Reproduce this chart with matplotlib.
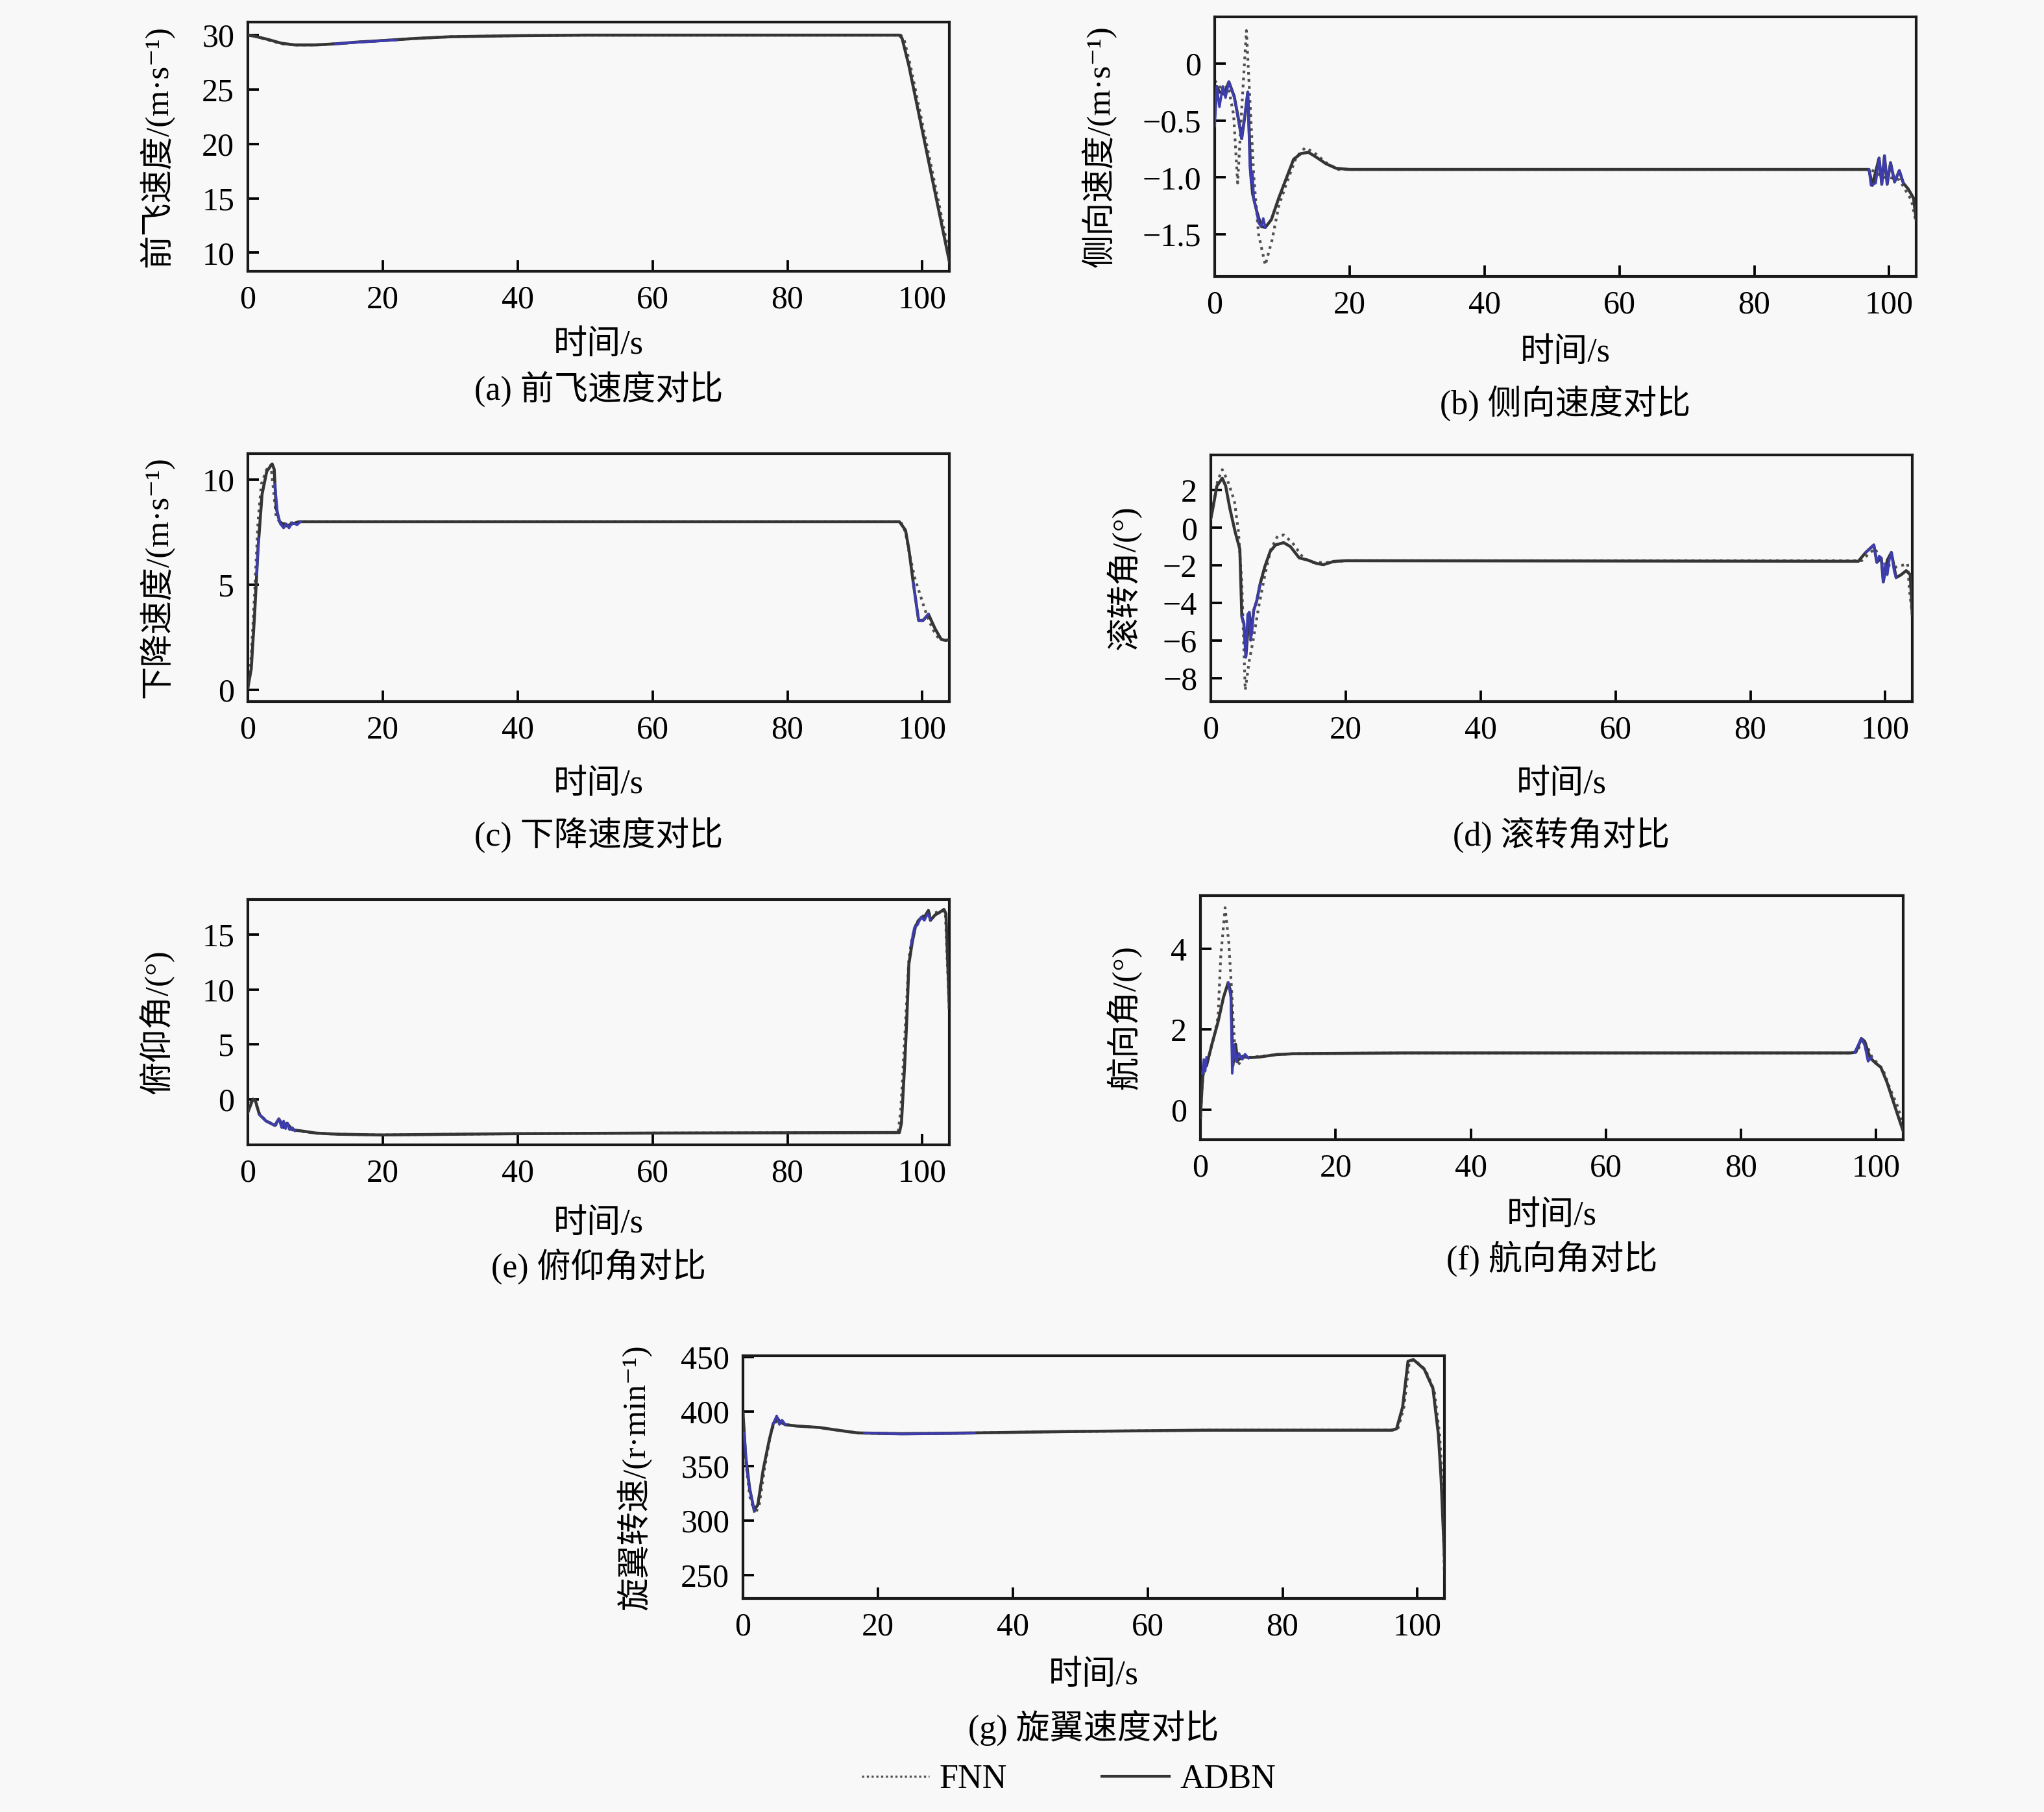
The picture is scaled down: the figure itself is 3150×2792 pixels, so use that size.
import numpy as np
import matplotlib
matplotlib.use('Agg')
import matplotlib.pyplot as plt
from matplotlib.lines import Line2D

plt.rcParams['font.family'] = ['Liberation Serif', 'Noto Sans CJK SC', 'DejaVu Serif']
plt.rcParams['axes.unicode_minus'] = True

nan = float('nan')

# (a) 前飞速度 ______________________________________________________________
a_t_adbn = [0, 1, 3, 5, 7, 10, 13, 16, 20, 25, 30, 40, 50, 60, 96.6, 97.0, 98.0, 100, 102, 104]
a_adbn = [30.0, 29.9, 29.6, 29.25, 29.1, 29.1, 29.2, 29.35, 29.5, 29.7, 29.85, 29.95, 30.0, 30.0,
          30.0, 29.7, 27.2, 21.2, 15.2, 9.2]
a_t_fnn = [0, 1, 3, 5, 7, 10, 13, 16, 20, 25, 30, 40, 50, 60, 96.8, 97.3, 98.3, 100.3, 102.3, 104]
a_fnn = [30.0, 29.9, 29.55, 29.2, 29.1, 29.1, 29.2, 29.35, 29.5, 29.7, 29.85, 29.95, 30.0, 30.0,
         30.0, 29.6, 27.0, 21.0, 15.0, 9.8]
a_t_blue = [13, 16, 20, 22]
a_blue = [29.2, 29.33, 29.48, 29.55]

# (b) 侧向速度 ______________________________________________________________
b_t_adbn = [0, 0.3, 0.7, 1.4, 2.1, 2.9, 3.5, 4.0, 4.5, 4.9, 5.3, 5.6, 6.2, 6.9, 7.5, 8.4, 9.5, 10.6,
            11.7, 12.8, 13.9, 15.0, 16.5, 18.0, 20, 97.0, 97.5, 98.5, 98.9, 99.3, 99.7, 100.2, 100.8,
            101.5, 102.1, 102.8, 103.6, 104]
b_adbn = [-0.45, -0.2, -0.25, -0.27, -0.16, -0.29, -0.48, -0.66, -0.45, -0.25, -0.91, -1.14, -1.29,
          -1.43, -1.44, -1.37, -1.18, -1.01, -0.84, -0.79, -0.78, -0.82, -0.88, -0.92, -0.93, -0.93,
          -1.07, -0.83, -1.06, -0.81, -1.06, -0.87, -1.04, -0.94, -1.05, -1.10, -1.18, -1.37]
b_t_fnn = [0, 1, 2, 2.8, 3.4, 4.0, 4.7, 5.2, 5.8, 6.5, 7.5, 8.5, 9.5, 10.6, 12.1, 13.4, 14.7, 16.5,
           18.3, 20, 97, 98, 99, 100, 101.5, 102.5, 103.3, 104]
b_fnn = [-0.15, -0.22, -0.2, -0.45, -1.05, -0.4, 0.29, -0.3, -1.0, -1.5, -1.77, -1.55, -1.25, -1.06,
         -0.82, -0.74, -0.78, -0.87, -0.93, -0.93, -0.93, -0.95, -1.0, -1.0, -1.02, -1.12, -1.2, -1.4]
b_t_blue = [0, 0.3, 0.7, 1.2, 1.6, 2.1, 2.9, 4.0, 4.9, 5.2, 5.4, 5.6, 5.8, 6.2, 6.5, 6.9, 7.2, 7.5, nan,
            97.0, 97.3, 98.0, 98.5, 98.9, 99.3, 99.7, 100.2, 100.8, 101.5, 102.1]
b_blue = [-0.55, -0.2, -0.38, -0.2, -0.3, -0.16, -0.3, -0.66, -0.25, -0.9, -1.05, -0.95, -1.2, -1.29,
          -1.4, -1.43, -1.36, -1.44, nan,
          -0.93, -1.07, -1.05, -0.83, -1.06, -0.81, -1.06, -0.87, -1.04, -0.94, -1.05]

# (c) 下降速度 ______________________________________________________________
c_t_adbn = [0, 0.5, 1.0, 1.5, 2.1, 2.8, 3.6, 3.9, 4.2, 4.7, 5.7, 6.6, 7.6, 96.6, 97.5, 98.0, 98.65,
            99.45, 100.1, 100.9, 101.9, 102.8, 103.5, 104]
c_adbn = [0.1, 1.0, 3.6, 6.7, 9.3, 10.4, 10.75, 10.5, 8.65, 8.0, 7.8, 7.9, 8.0, 8.0, 7.6, 6.7, 5.1,
          3.3, 3.3, 3.6, 2.9, 2.4, 2.35, 2.4]
c_t_fnn = [0, 0.5, 1.0, 1.5, 2.0, 2.8, 3.4, 3.8, 4.2, 5.0, 8.0, 96.8, 97.5, 98.0, 98.9, 99.7, 100.5,
           101.5, 102.5, 103.5, 104]
c_fnn = [0.1, 1.6, 4.6, 8.0, 9.8, 10.5, 10.7, 9.5, 8.2, 7.9, 8.0, 8.0, 7.5, 6.6, 5.3, 4.5, 3.7, 2.9,
         2.4, 2.35, 2.4]
c_t_blue = [1.3, 1.6, nan, 4.0, 4.4, 4.8, 5.3, 5.7, 6.1, 6.6, 7.3, 7.8, nan, 98.65, 99.45, 100.1, 100.9]
c_blue = [5.5, 7.2, nan, 9.8, 8.4, 7.9, 7.7, 7.9, 7.7, 7.95, 7.85, 8.0, nan, 5.1, 3.3, 3.3, 3.6]

# (d) 滚转角 ________________________________________________________________
d_t_adbn = [0, 0.26, 0.9, 1.7, 2.2, 2.8, 3.6, 4.3, 4.6, 4.9, 5.2, 5.7, 6.0, 6.35, 6.8, 7.3, 8.0, 8.8,
            9.6, 10.8, 11.8, 13.1, 14.4, 15.7, 16.7, 18.2, 20, 96.0, 97.1, 98.3, 98.75, 99.4, 99.7,
            100.3, 100.9, 101.6, 102.3, 103.1, 103.7, 104]
d_adbn = [0.5, 0.95, 2.23, 2.64, 2.23, 1.07, -0.21, -1.14, -4.74, -5.09, -6.84, -4.5, -5.7, -4.4,
          -3.9, -3.0, -2.07, -1.26, -0.91, -0.79, -1.0, -1.6, -1.72, -1.9, -1.96, -1.79, -1.75,
          -1.78, -1.31, -0.91, -1.84, -1.61, -2.88, -1.72, -1.31, -2.65, -2.51, -2.28, -2.5, -4.63]
d_t_fnn = [0, 0.5, 1.0, 1.7, 2.5, 3.5, 4.1, 4.6, 5.1, 5.7, 6.2, 7.1, 8.0, 8.9, 9.9, 10.8, 12.1, 13.7,
           15.0, 17.0, 20, 96.5, 97.5, 98.5, 99.5, 100.5, 101.5, 102.5, 103.3, 103.6, 104]
d_fnn = [0.5, 1.5, 2.5, 3.1, 2.5, 1.43, -0.21, -3.0, -8.64, -7.07, -6.14, -4.2, -2.54, -1.14, -0.44,
         -0.38, -0.79, -1.6, -1.84, -1.85, -1.75, -1.75, -1.4, -1.1, -1.9, -2.0, -2.1, -2.0, -1.9,
         -3.4, -4.6]
d_t_blue = [4.6, 4.9, 5.2, 5.45, 5.7, 5.9, 6.1, 6.35, 6.8, 7.3, nan, 97.1, 98.3, 98.75, 99.1, 99.4,
            99.7, 100.0, 100.3, 100.6, 100.9, 101.3, 101.6]
d_blue = [-4.7, -5.1, -6.9, -4.6, -4.5, -6.0, -5.5, -4.4, -3.9, -3.0, nan, -1.31, -0.91, -1.84, -1.5,
          -1.61, -2.88, -1.9, -2.5, -1.7, -1.31, -2.3, -2.65]

# (e) 俯仰角 ________________________________________________________________
e_t_adbn = [0, 0.75, 1.1, 1.7, 2.7, 4.0, 4.6, 5.3, 5.8, 6.6, 7.9, 10.1, 13.3, 19.7, 40, 60, 96.6,
            96.9, 97.4, 97.7, 98.0, 98.5, 99.0, 99.6, 100.4, 100.9, 101.2, 101.9, 102.5, 103.2,
            103.5, 103.6, 104]
e_adbn = [-1.2, 0.0, -0.1, -1.4, -2.0, -2.4, -1.8, -2.6, -2.2, -2.8, -2.9, -3.1, -3.2, -3.27, -3.15,
          -3.1, -3.05, -2.2, 3.4, 7.35, 12.3, 14.3, 15.8, 16.4, 16.7, 17.2, 16.3, 16.8, 17.0, 17.3,
          16.9, 15.3, 8.35]
e_t_fnn = [0, 0.7, 1.1, 1.7, 2.7, 4.0, 5.0, 6.6, 8.0, 10, 13.3, 19.7, 40, 60, 96.4, 96.8, 97.2, 97.6,
           98.0, 98.5, 99.0, 99.6, 100.4, 101.2, 102.0, 102.8, 103.4, 103.7, 104]
e_fnn = [-1.0, 0.1, -0.3, -1.3, -2.0, -2.3, -2.5, -2.8, -2.95, -3.1, -3.2, -3.27, -3.15, -3.1, -3.05,
         -1.0, 3.5, 8.0, 12.8, 14.8, 15.9, 16.5, 16.8, 16.9, 17.0, 17.2, 17.1, 12.5, 8.0]
e_t_blue = [1.7, 2.7, 4.0, 4.6, 5.0, 5.3, 5.6, 5.9, 6.2, 6.6, 7.0, nan, 98.3, 98.8, 99.3, 99.8, 100.3,
            100.8, 101.2]
e_blue = [-1.4, -2.0, -2.4, -1.8, -2.6, -2.0, -2.7, -2.2, -2.8, -2.6, -2.9, nan, 14.0, 15.6, 15.9,
          16.6, 16.3, 16.9, 16.4]

# (f) 航向角 ________________________________________________________________
f_t_adbn = [0, 0.25, 0.5, 0.9, 1.7, 2.6, 3.4, 4.1, 4.5, 4.8, 5.2, 5.5, 6.3, 7.1, 8.8, 11.3, 13.8, 30,
            96.2, 97.0, 97.8, 98.3, 99.1, 99.9, 100.7, 101.6, 102.4, 103.2, 104]
f_adbn = [-0.2, 0.6, 1.16, 1.09, 1.63, 2.18, 2.79, 3.16, 2.93, 1.09, 1.63, 1.22, 1.33, 1.29, 1.31,
          1.37, 1.39, 1.41, 1.41, 1.43, 1.77, 1.70, 1.29, 1.16, 1.05, 0.68, 0.27, -0.14, -0.54]
f_t_fnn = [0, 0.3, 0.6, 1.2, 2.0, 2.6, 3.0, 3.65, 4.2, 4.6, 5.05, 5.5, 6.3, 8.0, 11.3, 13.8, 30,
           96.4, 97.2, 98.0, 98.6, 99.4, 100.2, 101.0, 102.0, 103.2, 104]
f_fnn = [-0.2, 0.7, 1.1, 1.3, 1.8, 2.3, 3.8, 5.03, 4.15, 3.0, 1.63, 1.09, 1.29, 1.31, 1.37, 1.39,
         1.41, 1.41, 1.45, 1.75, 1.6, 1.3, 1.15, 1.0, 0.54, 0.07, -0.41]
f_t_blue = [0.3, 0.5, 0.7, 0.9, nan, 4.1, 4.5, 4.7, 5.0, 5.3, 5.7, 6.2, 6.6, 7.1, nan,
            96.8, 97.8, 98.3, 98.8, 99.3]
f_blue = [0.9, 1.25, 0.95, 1.3, nan, 3.16, 2.8, 0.9, 1.6, 1.2, 1.4, 1.25, 1.38, 1.28, nan,
          1.42, 1.77, 1.6, 1.2, 1.3]

# (g) 旋翼转速 ______________________________________________________________
g_t_adbn = [0, 0.4, 1.0, 1.65, 2.2, 3.0, 3.9, 4.5, 5.1, 5.5, 6.3, 8.0, 11.3, 13.8, 17, 23.6, 34.3,
            48.4, 68.9, 96.1, 96.9, 97.8, 98.6, 99.4, 101.0, 102.3, 103.1, 103.5, 104.2]
g_adbn = [399, 359, 329, 309.5, 314.4, 346.8, 374, 389, 394, 390.3, 387.8, 386.6, 385.3, 383, 380.3,
          379.6, 380.3, 381.6, 382.8, 382.8, 384, 404, 446, 447.5, 438.8, 421, 379, 339, 237]
g_t_fnn = [0, 0.4, 1.0, 1.8, 2.4, 3.2, 4.0, 4.6, 5.3, 6.3, 8.0, 11.3, 13.8, 17, 23.6, 34.3, 48.4,
           68.9, 96.3, 97.1, 98.0, 98.8, 99.6, 101.2, 102.5, 103.3, 103.7, 104]
g_fnn = [399, 355, 322, 306, 314, 348, 376, 389, 392, 388, 386.6, 385.3, 383, 380.3, 379.6, 380.3,
         381.6, 382.8, 382.8, 384, 404, 446, 447, 438, 419, 378, 335, 250]
g_t_blue = [0.2, 0.6, 1.0, 1.65, nan, 4.5, 5.0, 5.4, 5.8, 6.3, nan, 18, 23.6, 34.3]
g_blue = [380, 345, 329, 309.5, nan, 389, 396, 388, 392, 387.8, nan, 380.3, 379.4, 380.1]

x_ticks = [0, 20, 40, 60, 80, 100]

# panels: (series, box in px [left, top, right, bottom], ylim, yticks, yticklabels, ylabel, ylabel x, caption, label y, caption y)
panels = [
    ((a_t_fnn, a_fnn, a_t_adbn, a_adbn, a_t_blue, a_blue), (382, 34, 1463, 418), (8.3, 31.2),
     [10, 15, 20, 25, 30], None, '前飞速度/(m·s⁻¹)', 241, '(a) 前飞速度对比', 532, 599),
    ((b_t_fnn, b_fnn, b_t_adbn, b_adbn, b_t_blue, b_blue), (1872, 26, 2953, 426), (-1.87, 0.41),
     [0, -0.5, -1.0, -1.5], ['0', '−0.5', '−1.0', '−1.5'], '侧向速度/(m·s⁻¹)', 1694,
     '(b) 侧向速度对比', 544, 621),
    ((c_t_fnn, c_fnn, c_t_adbn, c_adbn, c_t_blue, c_blue), (382, 699, 1463, 1081), (-0.56, 11.24),
     [0, 5, 10], None, '下降速度/(m·s⁻¹)', 241, '(c) 下降速度对比', 1209, 1286),
    ((d_t_fnn, d_fnn, d_t_adbn, d_adbn, d_t_blue, d_blue), (1866, 701, 2947, 1081), (-9.25, 3.88),
     [2, 0, -2, -4, -6, -8], None, '滚转角/(°)', 1732, '(d) 滚转角对比', 1209, 1286),
    ((e_t_fnn, e_fnn, e_t_adbn, e_adbn, e_t_blue, e_blue), (382, 1386, 1463, 1764), (-4.17, 18.2),
     [0, 5, 10, 15], None, '俯仰角/(°)', 241, '(e) 俯仰角对比', 1886, 1951),
    ((f_t_fnn, f_fnn, f_t_adbn, f_adbn, f_t_blue, f_blue), (1850, 1380, 2933, 1756), (-0.75, 5.33),
     [0, 2, 4], None, '航向角/(°)', 1732, '(f) 航向角对比', 1874, 1939),
    ((g_t_fnn, g_fnn, g_t_adbn, g_adbn, g_t_blue, g_blue), (1145, 2089, 2226, 2463), (228.6, 451),
     [250, 300, 350, 400, 450], None, '旋翼转速/(r·min⁻¹)', 978, '(g) 旋翼速度对比', 2582, 2662),
]

W, H = 3150, 2792
bg = '#f8f8f8'
c_adbn = '#353535'
c_fnn = '#505050'
c_blue = '#3d3db0'

fig = plt.figure(figsize=(W / 300, H / 300), dpi=300, facecolor=bg)

for series, box, ylim, yt, ytl, ylab, ylab_x, cap, lab_y, cap_y in panels:
    t_f, v_f, t_a, v_a, t_b, v_b = series
    l, t, r, b = box
    ax = fig.add_axes([l / W, 1 - b / H, (r - l) / W, (b - t) / H])
    ax.set_facecolor(bg)
    ax.plot(t_f, v_f, color=c_fnn, ls=(0, (1, 1.6)), lw=1.0, zorder=2)
    ax.plot(t_a, v_a, color=c_adbn, lw=1.1, zorder=3)
    ax.plot(t_b, v_b, color=c_blue, lw=0.9, zorder=4)
    ax.set_xlim(0, 104)
    ax.set_ylim(*ylim)
    ax.set_xticks(x_ticks)
    ax.set_yticks(yt)
    if ytl is not None:
        ax.set_yticklabels(ytl)
    ax.tick_params(direction='in', length=4, width=0.9, labelsize=12, pad=5)
    for sp in ax.spines.values():
        sp.set_linewidth(1.0)
        sp.set_color('#1a1a1a')
    xc = (l + r) / 2 / W
    fig.text(ylab_x / W, 1 - (t + b) / 2 / H, ylab, rotation=90, ha='center', va='center', fontsize=12.3)
    fig.text(xc, 1 - lab_y / H, '时间/s', ha='center', va='center', fontsize=12.5)
    fig.text(xc, 1 - cap_y / H, cap, ha='center', va='center', fontsize=12.5)

handles = [Line2D([], [], color=c_fnn, ls=(0, (1, 1.2)), lw=0.8),
           Line2D([], [], color=c_adbn, lw=1.0)]
fig.legend(handles, ['FNN', 'ADBN'], loc='center', bbox_to_anchor=(1647 / W, 1 - 2742 / H),
           ncol=2, frameon=False, fontsize=12.5, handlelength=2.0, handletextpad=0.3,
           columnspacing=2.8)

fig.savefig('out.png', dpi=300, facecolor=bg)
